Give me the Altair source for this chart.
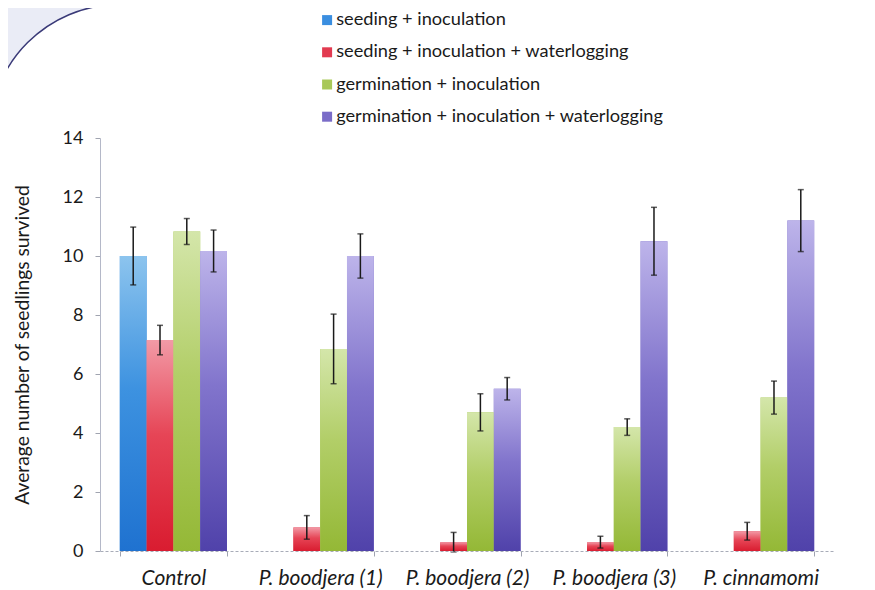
import altair as alt
import pandas as pd

categories = ["Control", "P. boodjera (1)", "P. boodjera (2)", "P. boodjera (3)", "P. cinnamomi"]
series = [
    "seeding + inoculation",
    "seeding + inoculation + waterlogging",
    "germination + inoculation",
    "germination + inoculation + waterlogging",
]
seed_inoc = [10.0, None, None, None, None]
seed_inoc_err = [0.98, None, None, None, None]
seed_inoc_water = [7.15, 0.8, 0.3, 0.3, 0.67]
seed_inoc_water_err = [0.5, 0.4, 0.33, 0.2, 0.3]
germ_inoc = [10.83, 6.85, 4.7, 4.2, 5.2]
germ_inoc_err = [0.44, 1.18, 0.63, 0.28, 0.56]
germ_inoc_water = [10.17, 10.0, 5.5, 10.5, 11.2]
germ_inoc_water_err = [0.71, 0.75, 0.38, 1.15, 1.05]
y_ticks = [0, 2, 4, 6, 8, 10, 12, 14]

flat_colors = ["#3a8ee0", "#e23a50", "#a8c858", "#7a6cc8"]
grad_stops = [
    ["#8cc4ee", "#3d92e0", "#1f72d0"],
    ["#f29aa6", "#e64556", "#d91c30"],
    ["#d4e6aa", "#b2ce68", "#94b836"],
    ["#bdb4ea", "#8174cc", "#5042aa"],
]

rows = []
for ser, vals, errs in zip(
    series,
    [seed_inoc, seed_inoc_water, germ_inoc, germ_inoc_water],
    [seed_inoc_err, seed_inoc_water_err, germ_inoc_err, germ_inoc_water_err],
):
    for c, v, e in zip(categories, vals, errs):
        if v is None:
            continue
        rows.append({"cat": c, "series": ser, "value": v, "lo": v - e, "hi": v + e})
df = pd.DataFrame(rows)

FONT = "Lato"

x_enc = alt.X(
    "cat:N",
    sort=categories,
    scale=alt.Scale(paddingInner=0.27, paddingOuter=0.135),
    axis=alt.Axis(
        title=None,
        labelAngle=0,
        labelFontStyle="italic",
        labelFontSize=21,
        labelFont=FONT,
        labelColor="#1a1a1a",
        labelPadding=11,
        tickBand="extent",
        tickSize=5,
        tickColor="#a0a4b0",
        domainColor="#a8acb8",
        domainDash=[3, 2],
        zindex=1,
    ),
)
xo_enc = alt.XOffset("series:N", sort=series, scale=alt.Scale(domain=series))
y_scale = alt.Scale(domain=[0, 14], nice=False)
y_enc = alt.Y(
    "value:Q",
    scale=y_scale,
    axis=alt.Axis(
        values=y_ticks,
        title="Average  number of seedlings survived",
        titleFont=FONT,
        titleFontSize=19.3,
        titleFontWeight="normal",
        titleColor="#1a1a1a",
        titlePadding=30,
        labelFont=FONT,
        labelFontSize=18,
        labelColor="#1a1a1a",
        labelPadding=12,
        grid=False,
        tickSize=5,
        tickColor="#a0a4b0",
        domainColor="#b4b8c8",
        zindex=1,
    ),
)

bg = alt.Chart(pd.DataFrame({"k": [0]})).mark_rect(
    fill="white", stroke="#3a3a78", strokeWidth=1.5, cornerRadius=130
).encode(
    x=alt.value(-110.5), x2=alt.value(1200), y=alt.value(-133.5), y2=alt.value(1200)
)

base = alt.Chart(df).mark_bar().encode(
    x=x_enc,
    xOffset=xo_enc,
    y=y_enc,
    color=alt.Color(
        "series:N",
        sort=series,
        scale=alt.Scale(domain=series, range=flat_colors),
        legend=alt.Legend(
            orient="none",
            legendX=218,
            legendY=-127,
            title=None,
            symbolType="square",
            symbolSize=100,
            symbolStrokeWidth=0,
            labelFont=FONT,
            labelFontSize=18.2,
            labelColor="#1a1a1a",
            labelLimit=0,
            labelOffset=0,
            rowPadding=13.2,
            padding=0,
            zindex=1,
        ),
    ),
)

grad_layers = []
for ser, stops in zip(series, grad_stops):
    g = alt.Gradient(
        gradient="linear",
        x1=0, y1=0, x2=0, y2=1,
        stops=[
            alt.GradientStop(color=stops[0], offset=0),
            alt.GradientStop(color=stops[1], offset=0.45),
            alt.GradientStop(color=stops[2], offset=1),
        ],
    )
    grad_layers.append(
        alt.Chart(df)
        .transform_filter(alt.datum.series == ser)
        .mark_bar(color=g)
        .encode(x=x_enc, xOffset=xo_enc, y=y_enc)
    )

err_rule = alt.Chart(df).mark_rule(color="#1a1a1a", strokeWidth=1.5).encode(
    x=x_enc, xOffset=xo_enc, y=alt.Y("lo:Q", scale=y_scale), y2="hi:Q"
)
cap_hi = alt.Chart(df).mark_tick(color="#1a1a1a", size=6, thickness=1.5).encode(
    x=x_enc, xOffset=xo_enc, y=alt.Y("hi:Q", scale=y_scale)
)
cap_lo = alt.Chart(df).mark_tick(color="#1a1a1a", size=6, thickness=1.5).encode(
    x=x_enc, xOffset=xo_enc, y=alt.Y("lo:Q", scale=y_scale)
)

chart = alt.layer(bg, base, *grad_layers, err_rule, cap_hi, cap_lo).properties(
    width=734,
    height=413,
    autosize=alt.AutoSizeParams(type="none"),
    padding={"left": 92, "top": 130, "right": 30, "bottom": 38},
    background="#eaecf6",
).configure_view(stroke=None)

chart.save("out.html", embed_options={"renderer": "svg", "actions": False})
